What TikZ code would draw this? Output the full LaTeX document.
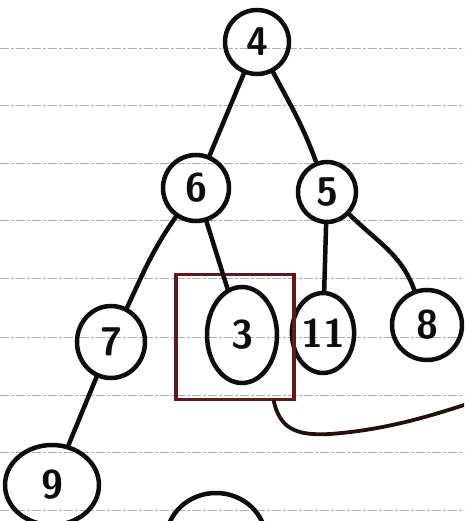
\documentclass[tikz,border=0pt]{standalone}
\usetikzlibrary{shapes.geometric}
\definecolor{ink}{RGB}{15,12,12}
\definecolor{boxred}{RGB}{100,25,25}
\definecolor{ruleline}{RGB}{175,172,190}
\begin{document}
\begin{tikzpicture}[x=1pt,y=-1pt,
  tn/.style={ellipse, draw=ink, line width=4.5pt, inner sep=0pt, text=ink,
             font=\sffamily\bfseries\fontsize{40}{40}\selectfont},
  edge/.style={draw=ink, line width=4.5pt, line cap=round},
  ruled/.style={draw=ruleline, line width=0.8pt, dash pattern=on 9pt off 2pt on 3pt off 2pt},
  markbox/.style={draw=boxred, line width=3.6pt, minimum width=118, minimum height=125, inner sep=0pt}]
\useasboundingbox (0,0) rectangle (464,521);
\clip (0,0) rectangle (464,521);
\fill[white] (0,0) rectangle (464,521);
\foreach \y in {48,105,163,220,278,337,395,452,510} \draw[ruled] (0,\y) -- (464,\y);
% tree nodes
\node[tn, minimum width=64, minimum height=64] (n4) at (257,42) {4};
\node[tn, minimum width=66, minimum height=66] (n6) at (196,188) {6};
\node[tn, minimum width=58, minimum height=60] (n5) at (327,192) {5};
\node[tn, minimum width=68, minimum height=72] (n7) at (111,342) {7};
\node[tn, minimum width=70, minimum height=96] (n3) at (242,335) {3};
\node[tn, minimum width=56, minimum height=80] (n11) at (323,333) {11};
\node[tn, minimum width=70, minimum height=70] (n8) at (427,325) {8};
\node[tn, minimum width=94, minimum height=80] (n9) at (52,485) {9};
% box around 3
\node[markbox] (box) at (235,337) {};
\coordinate (ce) at (464,405);
% edges
\draw[edge] (n4) -- (n6);
\draw[edge] (n4) to[out=-62,in=110] (n5);
\draw[edge] (n6) to[out=-125,in=65] (n7);
\draw[edge] (n6) -- (n3);
\draw[edge] (n5) -- (n11);
\draw[edge] (n5) to[out=-45,in=110] (n8);
\draw[edge] (n7) -- (n9);
% curve out of the box
\draw[draw=ink!75!boxred, line width=3.8pt, line cap=round]
  ([xshift=-22pt]box.south east) .. controls (280,428) and (295,436) .. (330,434)
  .. controls (385,430) and (430,416) .. (ce);
% partial ellipse at the bottom
\draw[ink, line width=4.5pt] (216,540) ellipse [x radius=50, y radius=47];
\end{tikzpicture}
\end{document}
